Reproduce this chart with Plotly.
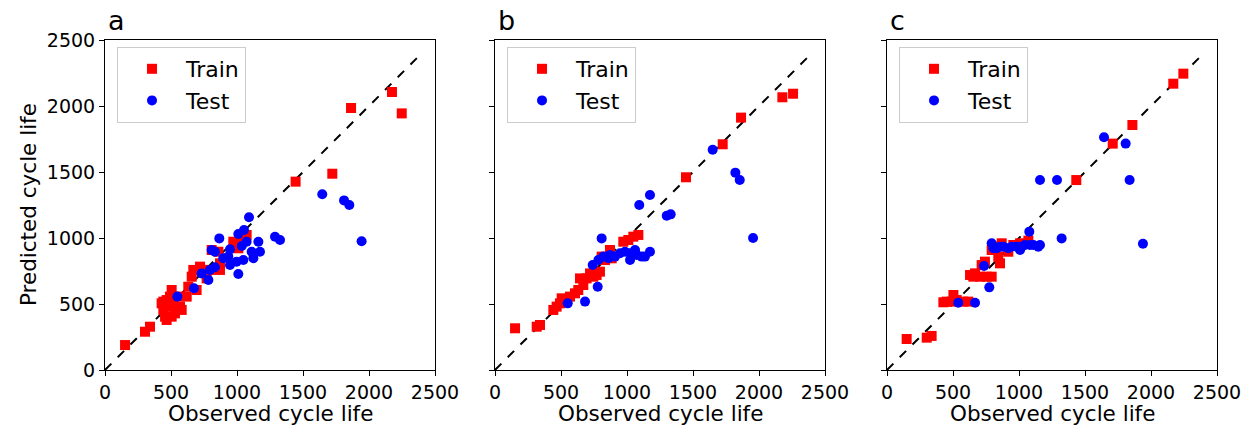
import plotly.graph_objects as go

# ---------------- data (observed, predicted) ----------------
a_train_obs = [152, 303, 341, 429, 442, 455, 467, 480, 492, 505, 518, 530, 543, 568, 581, 467, 442, 505, 556, 619,
               631, 694, 657, 669, 720, 745, 770, 795, 808, 859, 871, 871, 972, 1010, 1073, 1036, 1444, 1722, 1864, 2174, 2248]
a_train_pred = [189, 290, 328, 505, 455, 404, 379, 480, 556, 606, 518, 429, 467, 480, 455, 530, 518, 404, 556, 556,
                631, 606, 707, 758, 783, 758, 694, 758, 909, 896, 808, 758, 972, 922, 1023, 990, 1427, 1487, 1985, 2106, 1944]
a_test_obs = [548, 674, 732, 783, 795, 833, 808, 833, 866, 896, 934, 947, 947, 997, 1010, 1048, 1010, 1053, 1091, 1036,
              1073, 1111, 1124, 1162, 1174, 1288, 1326, 1646, 1811, 1851, 1944]
a_test_pred = [556, 619, 732, 682, 758, 778, 909, 896, 997, 846, 859, 795, 914, 821, 727, 833, 1030, 1061, 1157, 939,
               972, 896, 846, 972, 896, 1010, 985, 1331, 1285, 1250, 975]

b_train_obs = [152, 316, 341, 442, 467, 492, 505, 530, 568, 606, 631, 644, 669, 694, 720, 745, 770, 795, 808, 833,
               871, 884, 972, 1010, 1048, 1086, 1447, 1725, 1864, 2177, 2258]
b_train_pred = [316, 328, 341, 455, 480, 505, 543, 530, 556, 581, 606, 694, 644, 694, 732, 707, 720, 745, 859, 833,
                909, 846, 972, 985, 1010, 1023, 1460, 1710, 1912, 2066, 2093]
b_test_obs = [551, 682, 778, 740, 808, 783, 821, 859, 871, 909, 947, 985, 1023, 1023, 1061, 1073, 1111, 1136, 1174,
              1093, 1174, 1301, 1331, 1649, 1821, 1854, 1955]
b_test_pred = [505, 518, 631, 795, 997, 833, 859, 846, 871, 859, 884, 896, 833, 884, 909, 871, 859, 859, 896,
               1250, 1326, 1169, 1179, 1669, 1495, 1439, 1000]

c_train_obs = [149, 301, 338, 427, 452, 490, 503, 528, 578, 616, 629, 654, 667, 705, 717, 742, 755, 793, 793, 818,
               843, 856, 869, 919, 957, 1008, 1071, 1434, 1710, 1859, 2169, 2245]
c_train_pred = [235, 245, 258, 513, 518, 518, 568, 530, 518, 518, 720, 707, 732, 707, 795, 821, 707, 707, 909, 934,
                859, 808, 960, 896, 947, 960, 980, 1439, 1715, 1856, 2169, 2245]
c_test_obs = [540, 667, 775, 735, 793, 806, 831, 856, 881, 919, 944, 982, 1008, 1020, 1045, 1083, 1109, 1146, 1159,
              1078, 1159, 1288, 1323, 1644, 1808, 1838, 1939]
c_test_pred = [510, 510, 626, 788, 960, 922, 922, 934, 934, 922, 934, 934, 909, 934, 947, 947, 947, 934, 947,
               1048, 1439, 1439, 997, 1763, 1715, 1439, 957]

panel_labels = ["a", "b", "c"]
diag = [0, 2400]
ticks = [0, 500, 1000, 1500, 2000, 2500]

W, H = 1247, 426
FONT = "DejaVu Sans"
ML, MR, MT, MB = 105, 30, 40, 56
PW, PH = W - ML - MR, H - MT - MB


def px_x(px):
    return (px - ML) / PW


def px_y(py):
    return (H - MB - py) / PH


panels = [
    (a_train_obs, a_train_pred, a_test_obs, a_test_pred),
    (b_train_obs, b_train_pred, b_test_obs, b_test_pred),
    (c_train_obs, c_train_pred, c_test_obs, c_test_pred),
]
left_px = [105, 495, 887]
right_px = [435, 825, 1217]

fig = go.Figure()
layout = dict(
    width=W, height=H, margin=dict(l=ML, r=MR, t=MT, b=MB, autoexpand=False),
    paper_bgcolor="white", plot_bgcolor="white",
    font=dict(family=FONT, size=20, color="black"),
    annotations=[],
)
for i, (tx, ty, sx, sy) in enumerate(panels):
    n = "" if i == 0 else str(i + 1)
    xa, ya = "x" + n, "y" + n
    lg = "legend" + n
    fig.add_trace(go.Scatter(x=diag, y=diag, mode="lines", xaxis=xa, yaxis=ya,
                             line=dict(color="black", width=2, dash="dash"), showlegend=False, legend=lg))
    fig.add_trace(go.Scatter(x=tx, y=ty, mode="markers", name="Train", xaxis=xa, yaxis=ya, legend=lg,
                             marker=dict(symbol="square", color="red", size=10, line=dict(width=0))))
    fig.add_trace(go.Scatter(x=sx, y=sy, mode="markers", name="Test", xaxis=xa, yaxis=ya, legend=lg,
                             marker=dict(symbol="circle", color="blue", size=10, line=dict(width=0))))
    axcommon = dict(range=[0, 2500], tickvals=ticks, ticks="outside", ticklen=5, tickwidth=1, tickcolor="black",
                    showline=True, linecolor="black", linewidth=1, mirror=True, showgrid=False, zeroline=False,
                    tickfont=dict(size=19, family=FONT), automargin=False)
    layout["xaxis" + n] = dict(axcommon, domain=[px_x(left_px[i]), px_x(right_px[i])], anchor=ya)
    yax = dict(axcommon, domain=[0, 1], anchor=xa)
    if i != 0:
        yax["showticklabels"] = False
    layout["yaxis" + n] = yax
    layout[lg] = dict(x=px_x(left_px[i] + 12), y=px_y(47), xanchor="left", yanchor="top",
                      bgcolor="white", bordercolor="#cccccc", borderwidth=1, itemwidth=58,
                      font=dict(size=22, family=FONT))
    layout["annotations"].append(dict(text=panel_labels[i], xref="paper", yref="paper",
                                      x=px_x(left_px[i] + 1), y=px_y(38), xanchor="left", yanchor="bottom",
                                      showarrow=False, font=dict(size=27, family=FONT)))
    layout["annotations"].append(dict(text="Observed cycle life", xref="paper", yref="paper",
                                      x=px_x((left_px[i] + right_px[i]) / 2), y=px_y(413),
                                      xanchor="center", yanchor="middle",
                                      showarrow=False, font=dict(size=21.5, family=FONT)))

layout["annotations"].append(dict(text="Predicted cycle life", xref="paper", yref="paper",
                                  x=px_x(28), y=px_y(205), xanchor="center", yanchor="middle", textangle=-90,
                                  showarrow=False, font=dict(size=21.5, family=FONT)))

fig.update_layout(**layout)
fig.write_html("out.html")
